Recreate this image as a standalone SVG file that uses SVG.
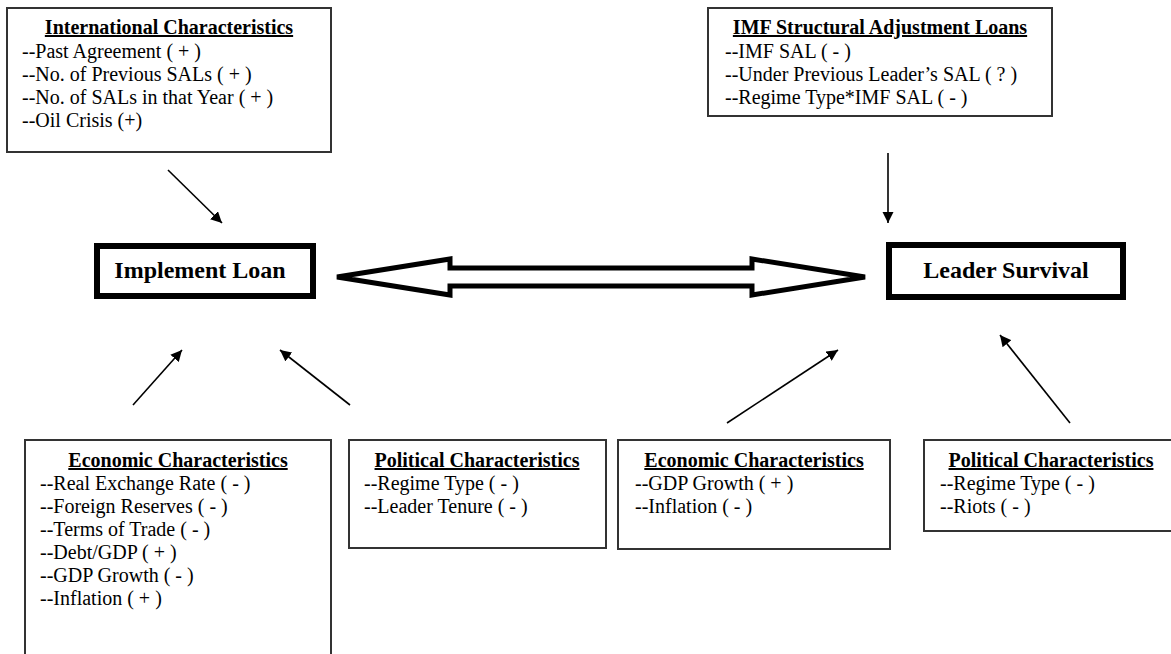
<svg xmlns="http://www.w3.org/2000/svg" width="1171" height="654" viewBox="0 0 1171 654">
<defs>
<marker id="ah" viewBox="0 0 10 10" refX="10" refY="5" markerWidth="7" markerHeight="7" orient="auto" markerUnits="strokeWidth">
<path d="M0,0 L10,5 L0,10 z" fill="#000"/>
</marker>
<style>
.box{fill:#fff;stroke:#333;stroke-width:2}
.main{fill:#fff;stroke:#000;stroke-width:6}
.t{font-family:"Liberation Serif","Times New Roman",serif;font-size:20px;fill:#000}
.h{font-weight:bold;text-decoration:underline;text-anchor:middle}
.m{font-family:"Liberation Serif","Times New Roman",serif;font-size:24px;font-weight:bold;fill:#000;text-anchor:middle}
.c{stroke:#000;stroke-width:1.6;fill:none;marker-end:url(#ah)}
</style>
</defs>
<rect width="1171" height="654" fill="#fff"/>
<g id="intl">
<rect class="box" x="7" y="8" width="324" height="144"/>
<text class="t h" x="169" y="34">International Characteristics</text>
<text class="t" x="22" y="58">--Past Agreement ( + )</text>
<text class="t" x="22" y="81">--No. of Previous SALs ( + )</text>
<text class="t" x="22" y="104">--No. of SALs in that Year ( + )</text>
<text class="t" x="22" y="127">--Oil Crisis (+)</text>
</g>
<g id="imf">
<rect class="box" x="708" y="8" width="344" height="108"/>
<text class="t h" x="880" y="34">IMF Structural Adjustment Loans</text>
<text class="t" x="725" y="58">--IMF SAL ( - )</text>
<text class="t" x="725" y="81">--Under Previous Leader’s SAL ( ? )</text>
<text class="t" x="725" y="104">--Regime Type*IMF SAL ( - )</text>
</g>
<g id="implement">
<rect class="main" x="97" y="246" width="216" height="50"/>
<text class="m" x="200" y="278">Implement Loan</text>
</g>
<g id="survival">
<rect class="main" x="889" y="245" width="234" height="52"/>
<text class="m" x="1006" y="278">Leader Survival</text>
</g>
<g id="econ1">
<rect class="box" x="25" y="440" width="306" height="230"/>
<text class="t h" x="178" y="467">Economic Characteristics</text>
<text class="t" x="40" y="490">--Real Exchange Rate ( - )</text>
<text class="t" x="40" y="513">--Foreign Reserves ( - )</text>
<text class="t" x="40" y="536">--Terms of Trade ( - )</text>
<text class="t" x="40" y="559">--Debt/GDP ( + )</text>
<text class="t" x="40" y="582">--GDP Growth ( - )</text>
<text class="t" x="40" y="605">--Inflation ( + )</text>
</g>
<g id="pol1">
<rect class="box" x="349" y="440" width="257" height="108"/>
<text class="t h" x="477" y="467">Political Characteristics</text>
<text class="t" x="364" y="490">--Regime Type ( - )</text>
<text class="t" x="364" y="513">--Leader Tenure ( - )</text>
</g>
<g id="econ2">
<rect class="box" x="618" y="440" width="272" height="109"/>
<text class="t h" x="754" y="467">Economic Characteristics</text>
<text class="t" x="635" y="490">--GDP Growth ( + )</text>
<text class="t" x="635" y="513">--Inflation ( - )</text>
</g>
<g id="pol2">
<rect class="box" x="924" y="440" width="254" height="91"/>
<text class="t h" x="1051" y="467">Political Characteristics</text>
<text class="t" x="940" y="490">--Regime Type ( - )</text>
<text class="t" x="940" y="513">--Riots ( - )</text>
</g>
<g id="connectors">
<path d="M337,277 L450,259 L450,268 L752,268 L752,259 L865,277 L752,295 L752,286 L450,286 L450,295 Z" fill="#fff" stroke="#000" stroke-width="5" stroke-linejoin="miter"/>
<line class="c" x1="168" y1="170" x2="222" y2="223"/>
<line class="c" x1="888" y1="153" x2="888" y2="223"/>
<line class="c" x1="133" y1="405" x2="182" y2="350"/>
<line class="c" x1="350" y1="405" x2="280" y2="350"/>
<line class="c" x1="727" y1="423" x2="838" y2="350"/>
<line class="c" x1="1070" y1="423" x2="1000" y2="335"/>
</g>
</svg>
